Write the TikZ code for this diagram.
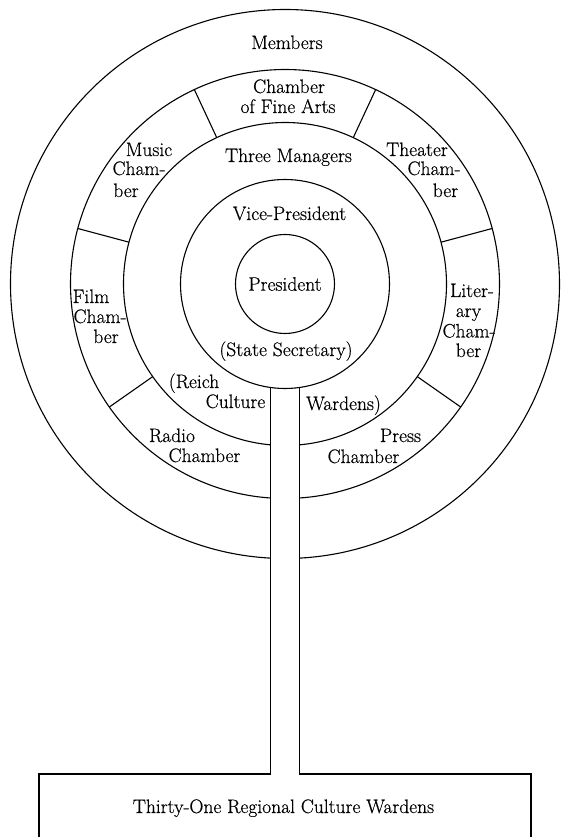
\documentclass[tikz,border=0pt]{standalone}
\usepackage{fontspec}
\newfontfamily\lbfont{Latin Modern Roman}[FakeBold=0.5]
\begin{document}
\begin{tikzpicture}[x=1pt,y=1pt,line width=1.1pt,
  lbl/.style={anchor=base,font=\lbfont\fontsize{19.5}{22}\selectfont,inner sep=0pt},
  ringc/.style={circle,draw,inner sep=0pt}]
\useasboundingbox (-285,-553) rectangle (275,284);
% full circles
\node[ringc,minimum size=99pt] (pres) at (0,0) {};
\node[ringc,minimum size=209pt] (vice) at (0,0) {};
% rings with a gap for the stem
\foreach \r in {161.5,214.5,274.5} {
  \pgfmathsetmacro\d{asin(14.5/\r)}
  \draw ({-90+\d}:\r) arc[start angle={-90+\d},end angle={270-\d},radius=\r];
}
% chamber dividers
\foreach \a in {15,65,115,165,215,325} \draw (\a:161.5) -- (\a:214.5);
% stem and regional box
\coordinate (sl) at (-14.5,-103.49);
\coordinate (sr) at (14.5,-103.49);
\coordinate (bl) at (-14.5,-490);
\coordinate (br) at (14.5,-490);
\coordinate (cl) at (-246,-490);
\coordinate (cr) at (246,-490);
\coordinate (dl) at (-246,-553);
\coordinate (dr) at (246,-553);
\draw (sl) -- (bl) -- (cl) -- (dl);
\draw (sr) -- (br) -- (cr) -- (dr);
% labels
\node[lbl] (mem) at (2,235) {Members};
\node[lbl] (fa1) at (4,191) {Chamber};
\node[lbl] (fa2) at (3,171) {of Fine Arts};
\node[lbl] (tm) at (3.5,122) {Three Managers};
\node[lbl] (vp) at (4.5,64) {Vice-President};
\node[lbl] (pr) at (0,-6.7) {President};
\node[lbl] (ss) at (1,-72) {(State Secretary)};
\node[lbl] (mu1) at (-136,128) {Music};
\node[lbl] (mu2) at (-146,109) {Cham-};
\node[lbl] (mu3) at (-159,87) {ber};
\node[lbl] (th1) at (132,128) {Theater};
\node[lbl] (th2) at (149,109) {Cham-};
\node[lbl] (th3) at (160.5,87) {ber};
\node[lbl] (fi1) at (-194,-19) {Film};
\node[lbl] (fi2) at (-185,-39) {Cham-};
\node[lbl] (fi3) at (-179,-59) {ber};
\node[lbl] (li1) at (187,-13) {Liter-};
\node[lbl] (li2) at (183.5,-33) {ary};
\node[lbl] (li3) at (184,-53.5) {Cham-};
\node[lbl] (li4) at (183.5,-73) {ber};
\node[lbl] (rc1) at (-91,-104) {(Reich};
\node[lbl] (rc2) at (-49.5,-124) {Culture};
\node[lbl] (rc3) at (58.5,-126) {Wardens)};
\node[lbl] (ra1) at (-113,-158) {Radio};
\node[lbl] (ra2) at (-80.5,-178) {Chamber};
\node[lbl] (ps1) at (115.5,-158) {Press};
\node[lbl] (ps2) at (78.5,-179) {Chamber};
\node[lbl] (reg) at (-1.5,-529) {Thirty-One Regional Culture Wardens};
\end{tikzpicture}
\end{document}
